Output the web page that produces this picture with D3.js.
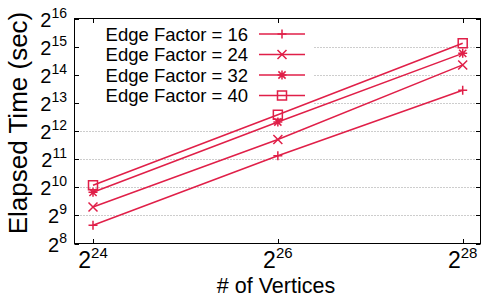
<!DOCTYPE html>
<html><head><meta charset="utf-8">
<script src="https://cdn.jsdelivr.net/npm/d3@7"></script>
<style>
body{margin:0;background:#fff}
svg{display:block}
text{font-family:"Liberation Sans",Arial,Helvetica,sans-serif;fill:#000}
</style>
</head><body>
<svg id="c" width="481" height="297"></svg>
<script>
// ---- data ----
const vertices = [2 ** 24, 2 ** 26, 2 ** 28];
const seriesNames = ["Edge Factor = 16", "Edge Factor = 24", "Edge Factor = 32", "Edge Factor = 40"];
const ef16 = [402, 2226, 11190];
const ef24 = [630, 3327, 20880];
const ef32 = [904, 5113, 27750];
const ef40 = [1075, 6123, 35610];
const markerTypes = ["plus", "cross", "star", "square"];
const xTickExps = [24, 26, 28];
const yTickExps = [8, 9, 10, 11, 12, 13, 14, 15, 16];
const xTitle = "# of Vertices";
const yTitle = "Elapsed Time (sec)";

const series = [ef16, ef24, ef32, ef40].map((v, i) => ({name: seriesNames[i], marker: markerTypes[i], values: v}));

// ---- layout ----
const color = "#e01f48";
const frame = {left: 74.5, right: 480.5, top: 18.5, bottom: 243.5};
const svg = d3.select("#c");

const x = d3.scaleLog().base(2).domain([2 ** 24, 2 ** 28]).range([93, 462.7]);
const y = d3.scaleLog().base(2).domain([2 ** 8, 2 ** 16]).range([243.5, 18.5]);

// grid (dotted)
svg.append("g").selectAll("line").data(yTickExps.filter(e => e > 8 && e < 16)).join("line")
  .attr("x1", frame.left).attr("x2", frame.right)
  .attr("y1", e => Math.round(y(2 ** e)) + 0.5).attr("y2", e => Math.round(y(2 ** e)) + 0.5)
  .attr("stroke", "#9a9a9a").attr("stroke-width", 1).attr("stroke-dasharray", "1,2");

// opaque legend box
svg.append("rect").attr("x", frame.left + 0.5).attr("y", 22).attr("width", 313 - frame.left).attr("height", 83)
  .attr("fill", "#fff");

// marker path
function markerPath(type, s) {
  if (type === "plus") return `M${-s},0H${s}M0,${-s}V${s}`;
  if (type === "cross") return `M${-s},${-s}L${s},${s}M${-s},${s}L${s},${-s}`;
  if (type === "star") return `M${-s},0H${s}M0,${-s}V${s}M${-s*0.8},${-s*0.8}L${s*0.8},${s*0.8}M${-s*0.8},${s*0.8}L${s*0.8},${-s*0.8}`;
  return `M${-s},${-s}H${s}V${s}H${-s}Z`;
}

// data lines + markers
const line = d3.line().x((d, i) => x(vertices[i])).y(d => y(d));
const gS = svg.append("g");
series.forEach(s => {
  gS.append("path").attr("d", line(s.values)).attr("fill", "none")
    .attr("stroke", color).attr("stroke-width", 1.5);
  gS.selectAll(null).data(s.values).join("path")
    .attr("transform", (d, i) => `translate(${x(vertices[i])},${y(d)})`)
    .attr("d", markerPath(s.marker, 4.5)).attr("fill", "none")
    .attr("stroke", color).attr("stroke-width", 1.5);
});

// frame
svg.append("rect").attr("x", frame.left).attr("y", frame.top)
  .attr("width", frame.right - frame.left).attr("height", frame.bottom - frame.top)
  .attr("fill", "none").attr("stroke", "#000").attr("stroke-width", 1);

// ticks
const tk = svg.append("g").attr("stroke", "#000").attr("stroke-width", 1);
yTickExps.forEach(e => {
  const yy = Math.round(y(2 ** e)) + 0.5;
  tk.append("line").attr("x1", frame.left).attr("x2", frame.left + 4.5).attr("y1", yy).attr("y2", yy);
  tk.append("line").attr("x1", frame.right).attr("x2", frame.right - 4.5).attr("y1", yy).attr("y2", yy);
});
xTickExps.forEach(e => {
  const xx = Math.round(x(2 ** e)) + 0.5;
  tk.append("line").attr("y1", frame.bottom).attr("y2", frame.bottom - 4.5).attr("x1", xx).attr("x2", xx);
  tk.append("line").attr("y1", frame.top).attr("y2", frame.top + 4.5).attr("x1", xx).attr("x2", xx);
});

// tick labels
yTickExps.forEach(e => {
  const t = svg.append("text").attr("x", 67).attr("y", y(2 ** e) + 8)
    .attr("text-anchor", "end").style("font-size", "20px");
  t.append("tspan").text("2");
  t.append("tspan").attr("dy", -9).style("font-size", "14px").text(String(e));
});
xTickExps.forEach(e => {
  const t = svg.append("text").attr("x", x(2 ** e)).attr("y", 268)
    .attr("text-anchor", "middle").style("font-size", "23px");
  t.append("tspan").text("2");
  t.append("tspan").attr("dy", -10).style("font-size", "15px").text(String(e));
});

// axis titles
svg.append("text").attr("x", 276).attr("y", 292.5).attr("text-anchor", "middle")
  .style("font-size", "21.5px").text(xTitle);
svg.append("text").attr("transform", "translate(27,123) rotate(-90)").attr("text-anchor", "middle")
  .style("font-size", "26px").text(yTitle);

// legend
const legY = [34, 54.5, 75, 95.5];
series.forEach((s, i) => {
  svg.append("text").attr("x", 248).attr("y", legY[i] + 6.5).attr("text-anchor", "end")
    .style("font-size", "18.5px").text(s.name);
  svg.append("line").attr("x1", 259).attr("x2", 305).attr("y1", legY[i]).attr("y2", legY[i])
    .attr("stroke", color).attr("stroke-width", 1.5);
  svg.append("path").attr("transform", `translate(282,${legY[i]})`)
    .attr("d", markerPath(s.marker, 4.5)).attr("fill", "none")
    .attr("stroke", color).attr("stroke-width", 1.5);
});
</script>
</body></html>
